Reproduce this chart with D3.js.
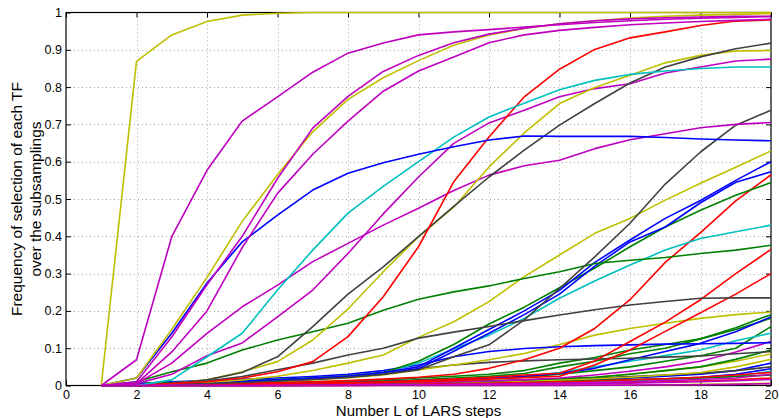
<!DOCTYPE html>
<html>
<head>
<meta charset="utf-8">
<script src="https://cdn.jsdelivr.net/npm/d3@7"></script>
<style>
  body { margin: 0; background: #fff; }
  svg { display: block; }
  text { font-family: "Liberation Sans", Arial, Helvetica, sans-serif; fill: #000; }
</style>
</head>
<body>
<svg id="chart" width="779" height="418"></svg>
<script>
// LARS steps on the horizontal axis
const steps = [1, 2, 3, 4, 5, 6, 7, 8, 9, 10, 11, 12, 13, 14, 15, 16, 17, 18, 19, 20];
const xTicks = [0, 2, 4, 6, 8, 10, 12, 14, 16, 18, 20];
const yTicks = [0, 0.1, 0.2, 0.3, 0.4, 0.5, 0.6, 0.7, 0.8, 0.9, 1];
const yTickLabels = ["0", "0.1", "0.2", "0.3", "0.4", "0.5", "0.6", "0.7", "0.8", "0.9", "1"];

// line colours (b g r c m y k)
const palette = { b: "#0000ff", g: "#008000", r: "#ff0000", c: "#00bfbf", m: "#bf00bf", y: "#bfbf00", k: "#404040" };

// selection frequency of each TF, one value per step
const tfY1 = [0, .869, .94, .976, .993, .998, 1, 1, 1, 1, 1, 1, 1, 1, 1, 1, 1, 1, 1, 1];
const tfM1 = [0, .069, .399, .577, .709, .774, .84, .891, .918, .94, .948, .954, .961, .967, .973, .978, .982, .985, .987, .989];
const tfY2 = [0, .02, .15, .29, .44, .565, .68, .767, .825, .871, .912, .94, .957, .97, .978, .985, .99, .993, .995, .997];
const tfM2 = [0, .01, .13, .27, .40, .555, .69, .775, .842, .885, .919, .942, .958, .97, .978, .983, .986, .988, .99, .99];
const tfM3 = [0, .005, .09, .20, .37, .515, .62, .709, .789, .843, .881, .919, .94, .952, .96, .967, .972, .976, .979, .982];
const tfB1 = [0, .02, .14, .275, .385, .457, .524, .569, .597, .62, .64, .658, .669, .668, .668, .668, .665, .661, .658, .656];
const tfC1 = [0, 0, .015, .077, .14, .256, .363, .462, .534, .6, .666, .72, .757, .793, .818, .834, .843, .85, .854, .854];
const tfR1 = [0, 0, .005, .01, .02, .037, .064, .131, .238, .372, .546, .666, .774, .848, .901, .932, .948, .965, .977, .98];
const tfK1 = [0, 0, .005, .015, .035, .077, .158, .245, .318, .399, .48, .559, .631, .698, .756, .811, .854, .881, .903, .918];
const tfY3 = [0, 0, .005, .015, .037, .064, .122, .205, .305, .399, .478, .586, .677, .756, .799, .832, .865, .885, .897, .898];
const tfM4 = [0, .005, .06, .14, .211, .269, .332, .381, .43, .475, .523, .564, .589, .604, .635, .659, .675, .691, .70, .705];
const tfM5 = [0, .005, .03, .08, .114, .184, .256, .354, .46, .559, .649, .704, .738, .774, .796, .809, .838, .854, .87, .875];
const tfK2 = [0, 0, .003, .005, .008, .012, .016, .022, .03, .042, .077, .109, .176, .26, .345, .435, .54, .626, .698, .738];
const tfK3 = [0, 0, .005, .012, .024, .042, .06, .082, .1, .127, .143, .158, .174, .189, .203, .216, .225, .234, .235, .235];
const tfG1 = [0, .01, .037, .06, .095, .122, .144, .167, .202, .231, .251, .267, .287, .305, .327, .336, .343, .354, .363, .376];
const tfY4 = [0, 0, .003, .008, .015, .025, .04, .06, .082, .129, .171, .225, .292, .35, .408, .448, .497, .542, .585, .629];
const tfB2 = [0, .003, .005, .008, .012, .015, .02, .025, .035, .05, .1, .15, .2, .255, .33, .39, .448, .496, .55, .60];
const tfB3 = [0, .003, .005, .008, .01, .013, .017, .022, .03, .045, .092, .14, .19, .245, .32, .385, .425, .49, .545, .573];
const tfG2 = [0, .005, .008, .01, .013, .016, .02, .025, .035, .065, .11, .165, .21, .262, .315, .372, .425, .47, .51, .544];
const tfC2 = [0, .002, .005, .008, .012, .016, .02, .025, .035, .06, .098, .135, .18, .234, .28, .323, .363, .394, .412, .43];
const tfB5 = [0, .005, .01, .013, .017, .02, .024, .03, .04, .055, .077, .091, .099, .104, .107, .109, .111, .112, .113, .115];
const tfR2 = [0, 0, .002, .004, .006, .008, .01, .013, .017, .022, .03, .046, .069, .1, .153, .23, .33, .41, .495, .565];
const tfR3 = [0, 0, .002, .003, .004, .005, .006, .008, .01, .013, .017, .022, .028, .033, .066, .118, .17, .23, .30, .365];
const tfR4 = [0, 0, 0, .002, .003, .004, .005, .006, .008, .01, .013, .017, .021, .025, .055, .095, .145, .195, .245, .30];
const tfY5 = [0, 0, .002, .004, .006, .01, .015, .02, .028, .042, .055, .069, .086, .11, .135, .153, .167, .18, .19, .197];
const tfK4 = [0, 0, .003, .006, .01, .015, .02, .027, .035, .045, .055, .062, .066, .069, .071, .073, .076, .079, .085, .091];
const tfG3 = [0, 0, .002, .004, .006, .008, .01, .012, .015, .02, .025, .03, .04, .06, .075, .095, .11, .125, .155, .19];
const tfG4 = [0, 0, .002, .003, .004, .006, .008, .01, .012, .015, .02, .025, .032, .05, .065, .085, .1, .125, .15, .18];
const tfG5 = [0, 0, 0, .002, .003, .004, .005, .007, .009, .011, .014, .018, .022, .03, .04, .05, .065, .08, .1, .158];
const tfG6 = [0, 0, 0, 0, .002, .003, .004, .005, .006, .008, .01, .012, .015, .018, .022, .03, .04, .05, .07, .095];
const tfC3 = [0, 0, .002, .003, .004, .005, .006, .008, .01, .012, .015, .02, .025, .035, .05, .065, .08, .095, .12, .14];
const tfB6 = [0, 0, .002, .003, .004, .005, .006, .008, .01, .013, .016, .02, .025, .032, .046, .069, .091, .113, .144, .184];
const tfM6 = [0, 0, .001, .002, .003, .004, .005, .006, .007, .008, .01, .012, .015, .02, .028, .038, .05, .065, .09, .118];
const tfY6 = [0, 0, 0, .001, .002, .003, .004, .005, .006, .008, .01, .012, .015, .018, .022, .03, .04, .05, .065, .085];
const tfY7 = [0, 0, 0, 0, .001, .002, .003, .004, .005, .006, .008, .01, .012, .015, .018, .022, .028, .035, .05, .07];
const tfK5 = [0, 0, 0, .001, .002, .003, .004, .005, .006, .008, .01, .012, .014, .017, .02, .024, .028, .033, .04, .05];
const tfB7 = [0, 0, 0, 0, .001, .002, .003, .004, .005, .006, .007, .008, .01, .012, .015, .02, .025, .03, .04, .06];
const tfB8 = [0, 0, 0, 0, 0, .001, .002, .003, .004, .005, .006, .007, .008, .009, .011, .014, .018, .022, .03, .045];
const tfC4 = [0, 0, 0, 0, .001, .001, .002, .002, .003, .004, .005, .006, .007, .009, .011, .013, .016, .02, .025, .038];
const tfR5 = [0, 0, 0, 0, 0, 0, .001, .002, .003, .004, .005, .006, .008, .01, .012, .015, .018, .022, .028, .035];
const tfG7 = [0, 0, 0, 0, 0, 0, .001, .002, .003, .004, .006, .008, .01, .012, .014, .016, .018, .02, .024, .028];
const tfR6 = [0, 0, 0, 0, 0, 0, 0, 0, .001, .001, .002, .003, .004, .005, .006, .008, .01, .012, .015, .02];
const tfM7 = [0, 0, 0, 0, 0, 0, 0, .001, .002, .002, .003, .004, .005, .006, .008, .01, .013, .016, .02, .03];
const tfM8 = [0, 0, 0, 0, 0, 0, 0, 0, .001, .001, .002, .002, .003, .004, .005, .006, .008, .01, .013, .016];
const tfY8 = [0, 0, 0, 0, 0, 0, 0, 0, 0, 0, 0, 0, 0, .001, .001, .002, .002, .003, .004, .006];
const tfM9 = [0, 0, 0, 0, 0, 0, 0, 0, 0, 0, 0, 0, 0, 0, .001, .001, .002, .002, .003, .005];

// drawing order and colour code for each TF curve
const curves = [
  ["y", tfY8], ["b", tfB7], ["b", tfB8], ["k", tfK5], ["c", tfC4], ["g", tfG7], ["r", tfR6],
  ["y", tfY6], ["y", tfY7], ["r", tfR5],
  ["g", tfG3], ["g", tfG4], ["g", tfG5], ["g", tfG6], ["c", tfC3], ["m", tfM6], ["b", tfB6],
  ["k", tfK4], ["y", tfY5], ["b", tfB5], ["r", tfR4], ["r", tfR3], ["r", tfR2],
  ["c", tfC2], ["g", tfG2], ["b", tfB3], ["b", tfB2], ["y", tfY4], ["g", tfG1], ["k", tfK3], ["k", tfK2],
  ["m", tfM4], ["m", tfM5], ["y", tfY3], ["k", tfK1], ["r", tfR1], ["c", tfC1], ["b", tfB1],
  ["m", tfM3], ["y", tfY2], ["m", tfM2], ["m", tfM1], ["y", tfY1],
  ["m", tfM7], ["m", tfM8], ["m", tfM9]
];

const svg = d3.select("#chart");
const plot = { left: 66, right: 771, top: 12.5, bottom: 385.5 };

const x = d3.scaleLinear().domain([0, 20]).range([plot.left, plot.right]);
const y = d3.scaleLinear().domain([0, 1]).range([plot.bottom, plot.top]);

// dotted grid
const grid = svg.append("g").attr("stroke", "#a8a8a8").attr("stroke-width", 1).attr("stroke-dasharray", "1,3");
grid.selectAll(".gx").data(xTicks.slice(1, -1)).join("line")
  .attr("x1", d => Math.round(x(d)) + 0.5).attr("x2", d => Math.round(x(d)) + 0.5)
  .attr("y1", plot.top).attr("y2", plot.bottom);
grid.selectAll(".gy").data(yTicks.slice(1, -1)).join("line")
  .attr("y1", d => Math.round(y(d)) + 0.5).attr("y2", d => Math.round(y(d)) + 0.5)
  .attr("x1", plot.left).attr("x2", plot.right);

// axes: ticks drawn inward, labels outside
const tickLen = 5;
const bottomAxis = d3.axisBottom(x).tickValues(xTicks).tickFormat(d3.format("d")).tickSizeInner(-tickLen).tickSizeOuter(0).tickPadding(5);
const topAxis = d3.axisTop(x).tickValues(xTicks).tickFormat("").tickSizeInner(-tickLen).tickSizeOuter(0);
const leftAxis = d3.axisLeft(y).tickValues(yTicks).tickFormat((d, i) => yTickLabels[i]).tickSizeInner(-tickLen).tickSizeOuter(0).tickPadding(4);
const rightAxis = d3.axisRight(y).tickValues(yTicks).tickFormat("").tickSizeInner(-tickLen).tickSizeOuter(0);

function styleAxis(g) {
  g.select(".domain").remove();
  g.selectAll(".tick line").attr("stroke", "#000");
  g.selectAll(".tick text").attr("font-size", 12.5).attr("font-family", '"Liberation Sans", Arial, sans-serif').attr("fill", "#000");
}
svg.append("g").attr("transform", `translate(0,${plot.bottom})`).call(bottomAxis).call(styleAxis);
svg.append("g").attr("transform", `translate(0,${plot.top})`).call(topAxis).call(styleAxis);
svg.append("g").attr("transform", `translate(${plot.left},0)`).call(leftAxis).call(styleAxis);
svg.append("g").attr("transform", `translate(${plot.right},0)`).call(rightAxis).call(styleAxis);

// box
svg.append("rect")
  .attr("x", plot.left).attr("y", plot.top)
  .attr("width", plot.right - plot.left).attr("height", plot.bottom - plot.top)
  .attr("fill", "none").attr("stroke", "#000").attr("stroke-width", 1.2);

// TF curves
const line = d3.line().x((d, i) => x(steps[i])).y(d => y(d));
svg.append("g").attr("fill", "none").attr("stroke-width", 1.6).attr("stroke-linejoin", "round")
  .selectAll("path").data(curves).join("path")
  .attr("stroke", d => palette[d[0]])
  .attr("d", d => line(d[1]));

// axis titles
svg.append("text")
  .attr("x", (plot.left + plot.right) / 2).attr("y", 416)
  .attr("text-anchor", "middle").attr("font-size", 15)
  .text("Number L of LARS steps");

const yTitle = svg.append("text")
  .attr("transform", `translate(0,${(plot.top + plot.bottom) / 2}) rotate(-90)`)
  .attr("text-anchor", "middle").attr("font-size", 15.5);
yTitle.append("tspan").attr("x", 0).attr("y", 21.5).text("Frequency of selection of each TF");
yTitle.append("tspan").attr("x", 0).attr("y", 40.5).text("over the subsamplings");
</script>
</body>
</html>
